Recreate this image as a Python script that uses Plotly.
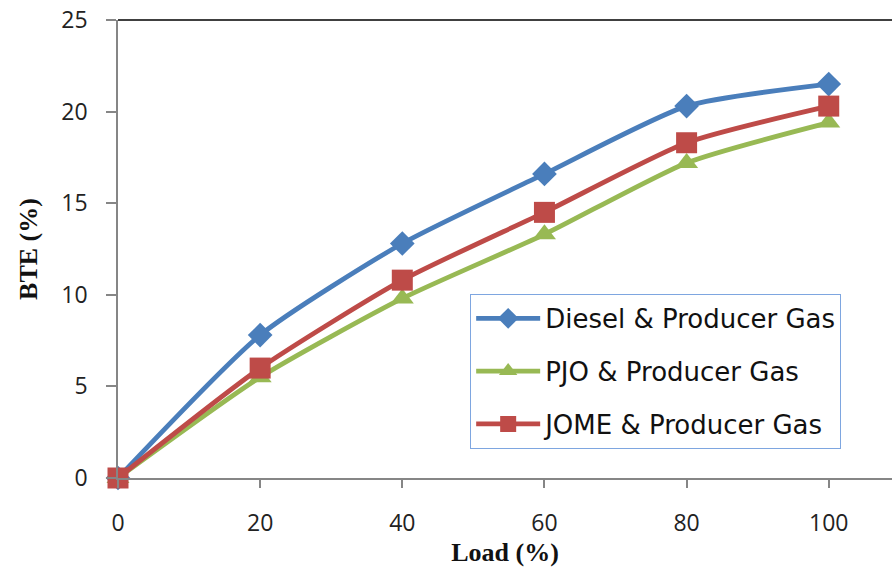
import plotly.graph_objects as go

load = [0, 20, 40, 60, 80, 100]
diesel = [0, 7.8, 12.8, 16.6, 20.3, 21.5]
pjo = [0, 5.5, 9.8, 13.3, 17.2, 19.4]
jome = [0, 6.0, 10.8, 14.5, 18.3, 20.3]

series = [
    ("Diesel & Producer Gas", diesel, "#4A7EBB", "diamond", 19),
    ("PJO & Producer Gas", pjo, "#98B954", "triangle-up", 20),
    ("JOME & Producer Gas", jome, "#BE4B48", "square", 21),
]

fig = go.Figure()
for i, (name, ys, col, sym, sz) in enumerate(series):
    fig.add_trace(go.Scatter(
        x=load, y=ys, name=name, mode="lines+markers",
        line=dict(color=col, width=4.8, shape="spline", smoothing=0.6),
        marker=dict(symbol=sym, size=sz, color=col),
        cliponaxis=False, legendgroup=str(i),
    ))

axis_col = "#868686"
fig.update_layout(
    width=892, height=567,
    margin=dict(l=118, r=0, t=20, b=89),
    plot_bgcolor="white", paper_bgcolor="white",
    showlegend=True,
    legend=dict(
        x=0.455, y=0.402, xanchor="left", yanchor="top",
        bordercolor="#7EA6E0", borderwidth=1, bgcolor="white",
        font=dict(family="DejaVu Sans", size=26, color="#111111"),
        tracegroupgap=16, itemwidth=64,
    ),
    xaxis=dict(
        range=[0, 108.9], tickvals=[0, 20, 40, 60, 80, 100], automargin=False,
        showline=True, linecolor=axis_col, linewidth=1.5,
        ticks="outside", ticklen=8, tickcolor=axis_col, tickwidth=1.5,
        showgrid=False, zeroline=False, ticklabelstandoff=16,
        tickfont=dict(family="Open Sans", size=23, color="#222222"),
        title=dict(text="<b>Load (%)</b>", standoff=12,
                   font=dict(family="Liberation Serif, Times New Roman", size=26, color="#111111")),
    ),
    yaxis=dict(
        range=[0, 25], dtick=5, automargin=False,
        showline=True, linecolor=axis_col, linewidth=1.5,
        ticks="outside", ticklen=10, tickcolor=axis_col, tickwidth=1.5,
        showgrid=False, zeroline=False, ticklabelstandoff=14,
        tickfont=dict(family="Open Sans", size=23, color="#222222"),
        title=dict(text="<b>BTE (%)</b>", standoff=16,
                   font=dict(family="Liberation Serif, Times New Roman", size=26, color="#111111")),
    ),
)
fig.add_shape(type="line", xref="paper", yref="paper", x0=0, x1=1, y0=1, y1=1,
              line=dict(color="#404040", width=2))

fig.write_html("out.html")
